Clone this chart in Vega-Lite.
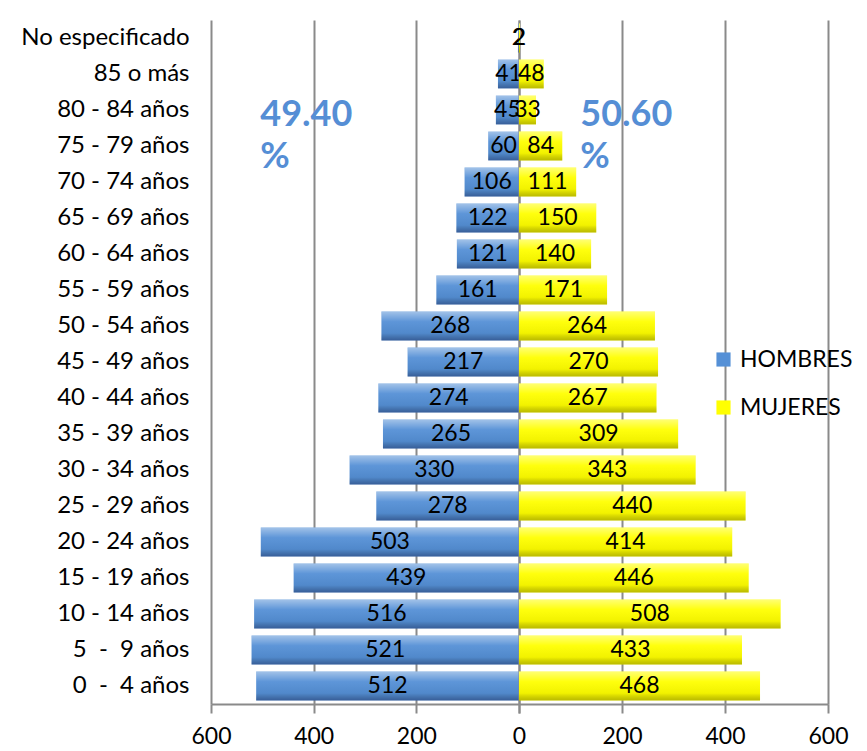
{
  "$schema": "https://vega.github.io/schema/vega-lite/v6.json",
  "padding": {"left": 11, "top": 20, "right": 5, "bottom": 5},
  "background": "#ffffff",
  "bounds": "flush",
  "config": {"font": "Lato", "view": {"stroke": null}, "concat": {"spacing": 0}},
  "spacing": 0,
  "datasets": {
    "poblacion": [
      {"grupo": "No especificado", "sexo": "HOMBRES", "poblacion": 2},
      {"grupo": "85 o más", "sexo": "HOMBRES", "poblacion": 41},
      {"grupo": "80 - 84 años", "sexo": "HOMBRES", "poblacion": 45},
      {"grupo": "75 - 79 años", "sexo": "HOMBRES", "poblacion": 60},
      {"grupo": "70 - 74 años", "sexo": "HOMBRES", "poblacion": 106},
      {"grupo": "65 - 69 años", "sexo": "HOMBRES", "poblacion": 122},
      {"grupo": "60 - 64 años", "sexo": "HOMBRES", "poblacion": 121},
      {"grupo": "55 - 59 años", "sexo": "HOMBRES", "poblacion": 161},
      {"grupo": "50 - 54 años", "sexo": "HOMBRES", "poblacion": 268},
      {"grupo": "45 - 49 años", "sexo": "HOMBRES", "poblacion": 217},
      {"grupo": "40 - 44 años", "sexo": "HOMBRES", "poblacion": 274},
      {"grupo": "35 - 39 años", "sexo": "HOMBRES", "poblacion": 265},
      {"grupo": "30 - 34 años", "sexo": "HOMBRES", "poblacion": 330},
      {"grupo": "25 - 29 años", "sexo": "HOMBRES", "poblacion": 278},
      {"grupo": "20 - 24 años", "sexo": "HOMBRES", "poblacion": 503},
      {"grupo": "15 - 19 años", "sexo": "HOMBRES", "poblacion": 439},
      {"grupo": "10 - 14 años", "sexo": "HOMBRES", "poblacion": 516},
      {"grupo": "5\u00a0\u00a0-\u00a0\u00a09 años", "sexo": "HOMBRES", "poblacion": 521},
      {"grupo": "0\u00a0\u00a0-\u00a0\u00a04 años", "sexo": "HOMBRES", "poblacion": 512},
      {"grupo": "No especificado", "sexo": "MUJERES", "poblacion": 2},
      {"grupo": "85 o más", "sexo": "MUJERES", "poblacion": 48},
      {"grupo": "80 - 84 años", "sexo": "MUJERES", "poblacion": 33},
      {"grupo": "75 - 79 años", "sexo": "MUJERES", "poblacion": 84},
      {"grupo": "70 - 74 años", "sexo": "MUJERES", "poblacion": 111},
      {"grupo": "65 - 69 años", "sexo": "MUJERES", "poblacion": 150},
      {"grupo": "60 - 64 años", "sexo": "MUJERES", "poblacion": 140},
      {"grupo": "55 - 59 años", "sexo": "MUJERES", "poblacion": 171},
      {"grupo": "50 - 54 años", "sexo": "MUJERES", "poblacion": 264},
      {"grupo": "45 - 49 años", "sexo": "MUJERES", "poblacion": 270},
      {"grupo": "40 - 44 años", "sexo": "MUJERES", "poblacion": 267},
      {"grupo": "35 - 39 años", "sexo": "MUJERES", "poblacion": 309},
      {"grupo": "30 - 34 años", "sexo": "MUJERES", "poblacion": 343},
      {"grupo": "25 - 29 años", "sexo": "MUJERES", "poblacion": 440},
      {"grupo": "20 - 24 años", "sexo": "MUJERES", "poblacion": 414},
      {"grupo": "15 - 19 años", "sexo": "MUJERES", "poblacion": 446},
      {"grupo": "10 - 14 años", "sexo": "MUJERES", "poblacion": 508},
      {"grupo": "5\u00a0\u00a0-\u00a0\u00a09 años", "sexo": "MUJERES", "poblacion": 433},
      {"grupo": "0\u00a0\u00a0-\u00a0\u00a04 años", "sexo": "MUJERES", "poblacion": 468}
    ],
    "anotaciones": [
      {"sexo": "HOMBRES", "texto": ["49.40", "%"]},
      {"sexo": "MUJERES", "texto": ["50.60", "%"]}
    ]
  },
  "hconcat": [
    {
      "width": 308,
      "height": 684,
      "layer": [
        {
          "data": {"name": "poblacion"},
          "transform": [{"filter": "datum.sexo == 'HOMBRES'"}],
          "mark": {"type": "bar"},
          "encoding": {
            "y": {"field": "grupo", "type": "nominal", "sort": null,
              "scale": {"paddingInner": 0.2, "paddingOuter": 0.1},
              "axis": {"title": null, "domain": false, "ticks": false, "grid": false, "labelFontSize": 24, "labelColor": "#000000", "labelPadding": 22, "minExtent": 200, "maxExtent": 200}},
            "x": {"field": "poblacion", "type": "quantitative",
              "scale": {"domain": [0, 600], "reverse": true, "nice": false},
              "axis": {"values": [0, 200, 400, 600], "title": null, "grid": true, "gridColor": "#8a8a8a", "gridWidth": 2, "domainColor": "#8a8a8a", "domainWidth": 2, "tickColor": "#8a8a8a", "tickWidth": 2, "tickSize": 9, "labelFontSize": 23, "labelColor": "#000000", "labelPadding": 12, "labelFlush": false}},
            "color": {"field": "sexo", "type": "nominal",
              "scale": {"domain": ["HOMBRES", "MUJERES"], "range": ["#5590d6", "#ffff00"]},
              "legend": null}
          }
        },
        {
          "data": {"name": "poblacion"},
          "transform": [{"filter": "datum.sexo == 'HOMBRES'"}],
          "mark": {"type": "bar", "color": {"gradient": "linear", "x1": 0, "y1": 0, "x2": 0, "y2": 1, "stops": [{"offset": 0, "color": "rgba(255,255,255,0.45)"}, {"offset": 0.35, "color": "rgba(255,255,255,0.05)"}, {"offset": 0.75, "color": "rgba(0,0,0,0.05)"}, {"offset": 1, "color": "rgba(0,0,40,0.35)"}]}},
          "encoding": {
            "y": {"field": "grupo", "type": "nominal", "sort": null},
            "x": {"field": "poblacion", "type": "quantitative"}
          }
        },
        {
          "data": {"name": "poblacion"},
          "transform": [{"filter": "datum.sexo == 'HOMBRES'"}],
          "mark": {"type": "text", "fontSize": 23, "color": "#000000", "baseline": "middle"},
          "encoding": {
            "y": {"field": "grupo", "type": "nominal", "sort": null},
            "x": {"field": "poblacion", "type": "quantitative", "stack": "zero", "bandPosition": 0.5},
            "detail": {"field": "sexo"},
            "text": {"field": "poblacion", "type": "quantitative"}
          }
        },
        {
          "data": {"name": "anotaciones"},
          "transform": [{"filter": "datum.sexo == 'HOMBRES'"}],
          "mark": {"type": "text", "fontSize": 36, "fontWeight": "bold", "color": "#558ed5", "align": "left", "baseline": "top", "lineHeight": 42, "dy": -12},
          "encoding": {
            "y": {"datum": "80 - 84 años", "type": "nominal"},
            "x": {"datum": 504, "type": "quantitative"},
            "text": {"field": "texto"}
          }
        }
      ]
    },
    {
      "width": 309,
      "height": 684,
      "layer": [
        {
          "data": {"name": "poblacion"},
          "transform": [{"filter": "datum.sexo == 'MUJERES'"}],
          "mark": {"type": "bar"},
          "encoding": {
            "y": {"field": "grupo", "type": "nominal", "sort": null,
              "scale": {"paddingInner": 0.2, "paddingOuter": 0.1},
              "axis": null},
            "x": {"field": "poblacion", "type": "quantitative",
              "scale": {"domain": [0, 600], "nice": false},
              "axis": {"values": [0, 200, 400, 600], "labelExpr": "datum.value == 0 ? '' : datum.label", "title": null, "grid": true, "gridColor": "#8a8a8a", "gridWidth": 2, "domainColor": "#8a8a8a", "domainWidth": 2, "tickColor": "#8a8a8a", "tickWidth": 2, "tickSize": 9, "labelFontSize": 23, "labelColor": "#000000", "labelPadding": 12, "labelFlush": false}},
            "color": {"field": "sexo", "type": "nominal",
              "scale": {"domain": ["HOMBRES", "MUJERES"], "range": ["#5590d6", "#ffff00"]},
              "legend": {"title": null, "orient": "none", "legendX": 193, "legendY": 328, "labelFontSize": 23, "labelColor": "#000000", "symbolType": "square", "symbolSize": 200, "symbolStrokeWidth": 0, "rowPadding": 24, "labelOffset": 5}}
          }
        },
        {
          "data": {"name": "poblacion"},
          "transform": [{"filter": "datum.sexo == 'MUJERES'"}],
          "mark": {"type": "bar", "color": {"gradient": "linear", "x1": 0, "y1": 0, "x2": 0, "y2": 1, "stops": [{"offset": 0, "color": "rgba(255,255,255,0.45)"}, {"offset": 0.35, "color": "rgba(255,255,255,0.05)"}, {"offset": 0.75, "color": "rgba(0,0,0,0.05)"}, {"offset": 1, "color": "rgba(60,60,0,0.35)"}]}},
          "encoding": {
            "y": {"field": "grupo", "type": "nominal", "sort": null},
            "x": {"field": "poblacion", "type": "quantitative"}
          }
        },
        {
          "data": {"name": "poblacion"},
          "transform": [{"filter": "datum.sexo == 'MUJERES'"}],
          "mark": {"type": "text", "fontSize": 23, "color": "#000000", "baseline": "middle"},
          "encoding": {
            "y": {"field": "grupo", "type": "nominal", "sort": null},
            "x": {"field": "poblacion", "type": "quantitative", "stack": "zero", "bandPosition": 0.5},
            "detail": {"field": "sexo"},
            "text": {"field": "poblacion", "type": "quantitative"}
          }
        },
        {
          "data": {"name": "anotaciones"},
          "transform": [{"filter": "datum.sexo == 'MUJERES'"}],
          "mark": {"type": "text", "fontSize": 36, "fontWeight": "bold", "color": "#558ed5", "align": "left", "baseline": "top", "lineHeight": 42, "dy": -12},
          "encoding": {
            "y": {"datum": "80 - 84 años", "type": "nominal"},
            "x": {"datum": 119, "type": "quantitative"},
            "text": {"field": "texto"}
          }
        }
      ]
    }
  ],
  "resolve": {"scale": {"color": "independent"}, "legend": {"color": "independent"}}
}
